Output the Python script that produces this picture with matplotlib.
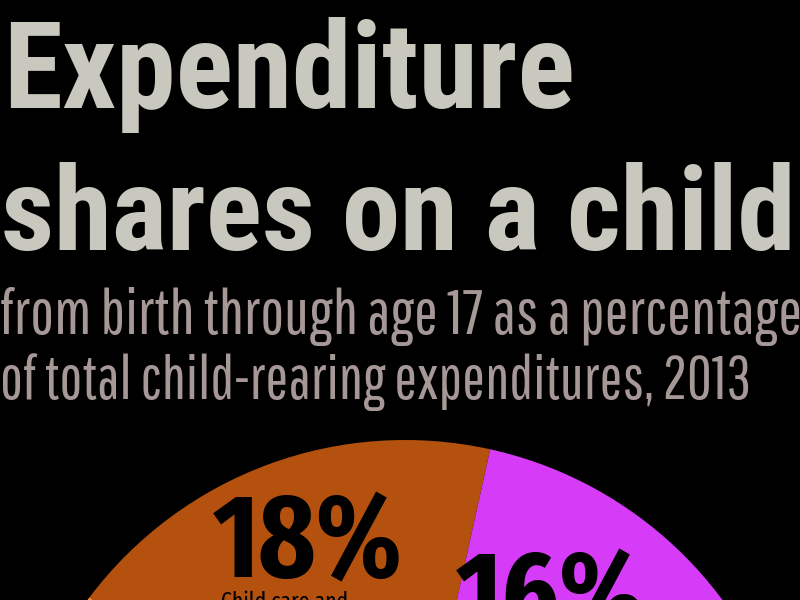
import matplotlib.pyplot as plt

# USDA 2013 expenditure shares on a child (percent)
categories = ["Child care and\neducation", "Food", "Housing", "Transportation",
              "Health care", "Clothing", "Miscellaneous"]
shares = [18, 16, 30, 14, 8, 6, 7]
colors = ["#b4510e", "#d63cf8", "#7a7a7a", "#3d8fd6", "#5cb85c", "#e0c040", "#ff8c2e"]

title_lines = ["Expenditure", "shares on a child"]
subtitle_lines = ["from birth through age 17 as a percentage",
                  "of total child-rearing expenditures, 2013"]

title_font = ["Roboto Condensed", "DejaVu Sans"]
sub_font = ["Pathway Gothic One", "Fira Sans Extra Condensed", "DejaVu Sans"]
num_font = ["Fira Sans Extra Condensed", "Roboto Condensed", "DejaVu Sans"]

fig = plt.figure(figsize=(8, 6), dpi=100, facecolor="black")
ax = fig.add_axes([0, 0, 1, 1])
ax.set_facecolor("black")

# pie sits low, only its top shows
ax.pie(shares, colors=colors, startangle=143, counterclock=False,
       center=(405, -235), radius=395, wedgeprops=dict(linewidth=0))
ax.set_xlim(0, 800)
ax.set_ylim(0, 600)
ax.set_aspect("equal")
ax.axis("off")

renderer = fig.canvas.get_renderer()


def fit_text(x, y, s, width, **kw):
    # size the text so it spans the given pixel width
    t = ax.text(x, y, s, fontsize=50, **kw)
    w = t.get_window_extent(renderer).width
    t.set_fontsize(50 * width / w)
    return t


# title (y values are pixels from the top)
fit_text(3, 600 - 108, title_lines[0], 572, family=title_font, fontweight="bold",
         color="#c8c8bf", va="baseline", ha="left")
fit_text(1, 600 - 250, title_lines[1], 796, family=title_font, fontweight="bold",
         color="#c8c8bf", va="baseline", ha="left")

# subtitle
fit_text(0, 600 - 334, subtitle_lines[0], 802, family=sub_font,
         color="#a69896", va="baseline", ha="left")
fit_text(0, 600 - 399, subtitle_lines[1], 750, family=sub_font,
         color="#a69896", va="baseline", ha="left")

# slice labels
fit_text(213, 600 - 577, "%d%%" % shares[0], 190, family=num_font, fontweight="bold",
         color="black", va="baseline", ha="left")
ax.text(221, 600 - 591, categories[0], family=num_font, fontsize=17,
        color="black", va="top", ha="left", linespacing=1.0)
fit_text(456, 600 - 634, "%d%%" % shares[1], 190, family=num_font, fontweight="bold",
         color="black", va="baseline", ha="left")

fig.savefig("out.png", dpi=100, facecolor="black")
